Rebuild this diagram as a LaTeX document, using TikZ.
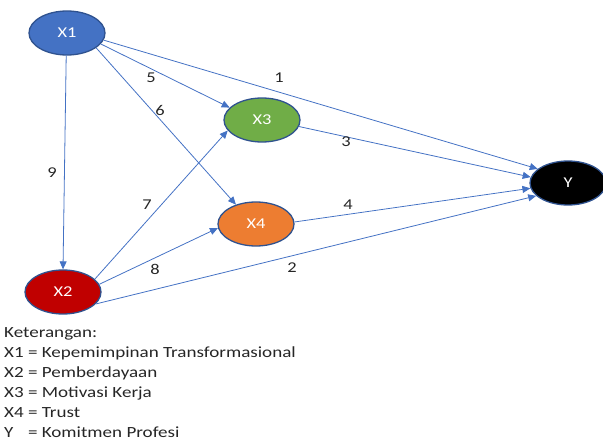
\documentclass[tikz,border=0pt]{standalone}
\usepackage{fontspec}
\setmainfont[FakeStretch=1.23]{Carlito}
\usetikzlibrary{arrows.meta,shapes.geometric}
\definecolor{edgeblue}{HTML}{4472C4}
\definecolor{rimblue}{HTML}{2F528F}
\definecolor{cX1}{HTML}{4472C4}
\definecolor{cX3}{HTML}{70AD47}
\definecolor{cX4}{HTML}{ED7D31}
\definecolor{cX2}{HTML}{C00000}
\begin{document}
\begin{tikzpicture}[x=1pt,y=-1pt,
  var/.style={ellipse, draw=rimblue, line width=1.3pt, minimum width=76pt, minimum height=44pt, inner sep=0pt, text=white, font=\fontsize{15}{17}\selectfont},
  path/.style={draw=edgeblue, line width=0.8pt, -{Triangle[length=8pt,width=7pt]}},
  coef/.style={font=\fontsize{15}{17}\selectfont, text=black!85, inner sep=0pt},
  legend/.style={anchor=base west, font=\fontsize{15.5}{18}\selectfont, text=black!85, inner sep=0pt}]
\useasboundingbox (0,0) rectangle (603,441);
\node[var, fill=cX1] (X1) at (67,33) {X1};
\node[var, fill=cX3] (X3) at (262,120) {X3};
\node[var, fill=cX4] (X4) at (256,224) {X4};
\node[var, fill=cX2] (X2) at (63,292) {X2};
\node[var, fill=black] (Y) at (568,183) {Y};

\draw[path] (X1.-11) -- (Y.155);
\draw[path] (X1.-18) -- (X3.159);
\draw[path] (X1.-27) -- (X4.136);
\draw[path] (X1.-92) -- (X2.90);
\draw[path] (X3.-10) -- (Y.171);
\draw[path] (X4.3) -- (Y.188);
\draw[path] (X2.-20) -- (Y.202);
\draw[path] (X2.22) -- (X3.197);
\draw[path] (X2.12) -- (X4.186);

\node[coef] (n1) at (279,78) {1};
\node[coef] (n5) at (151,78) {5};
\node[coef] (n6) at (160,110) {6};
\node[coef] (n9) at (52,173) {9};
\node[coef] (n3) at (346,142) {3};
\node[coef] (n4) at (348,205) {4};
\node[coef] (n2) at (292,268) {2};
\node[coef] (n7) at (147,205) {7};
\node[coef] (n8) at (155,269) {8};

\node[legend] (k0) at (4,337) {Keterangan:};
\node[legend] (k1) at (4,357) {X1 = Kepemimpinan Transformasional};
\node[legend] (k2) at (4,377) {X2 = Pemberdayaan};
\node[legend] (k3) at (4,397) {X3 = Motivasi Kerja};
\node[legend] (k4) at (4,417) {X4 = Trust};
\node[legend] (k5) at (4,437) {\rlap{Y}\hphantom{X4} = Komitmen Profesi};
\end{tikzpicture}
\end{document}
